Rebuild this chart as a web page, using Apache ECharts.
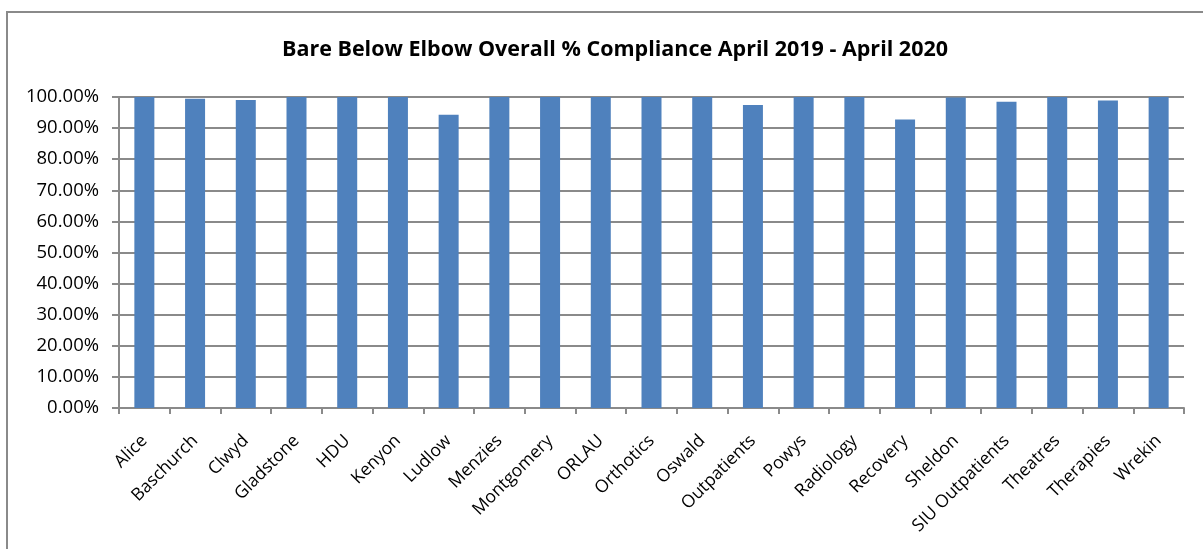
<!DOCTYPE html>
<html>
<head>
<meta charset="utf-8">
<title>Bare Below Elbow Overall % Compliance</title>
<script src="https://cdn.jsdelivr.net/npm/echarts@6/dist/echarts.min.js"></script>
<style>
  html, body { margin: 0; padding: 0; background: #ffffff; }
  #chart { width: 1203px; height: 549px; }
</style>
</head>
<body>
<div id="chart"></div>
<script>
// Wards / departments audited
const categories = [
  'Alice', 'Baschurch', 'Clwyd', 'Gladstone', 'HDU', 'Kenyon', 'Ludlow',
  'Menzies', 'Montgomery', 'ORLAU', 'Orthotics', 'Oswald', 'Outpatients',
  'Powys', 'Radiology', 'Recovery', 'Sheldon', 'SIU Outpatients',
  'Theatres', 'Therapies', 'Wrekin'
];

// Overall compliance, percent
const compliance = [
  100, 99.4, 99.0, 100, 100, 100, 94.3,
  100, 100, 100, 100, 100, 97.4,
  100, 100, 92.8, 99.8, 98.5,
  100, 98.9, 100
];

const chartTitle = 'Bare Below Elbow Overall % Compliance April 2019 - April 2020';

const axisGrey = '#8a8a8a';
const fontFamily = '"Open Sans", "Noto Sans", sans-serif';

const chart = echarts.init(document.getElementById('chart'), null, { renderer: 'canvas' });

chart.setOption({
  backgroundColor: '#ffffff',
  animation: false,
  title: {
    text: chartTitle,
    left: 610,
    textAlign: 'center',
    top: 34,
    textStyle: { fontFamily, fontSize: 21.5, fontWeight: 'bold', color: '#000000' }
  },
  grid: { left: 119, right: 19, top: 97, bottom: 141, containLabel: false },
  xAxis: {
    type: 'category',
    data: categories,
    boundaryGap: true,
    axisLine: { lineStyle: { color: axisGrey, width: 2 } },
    axisTick: { show: true, length: 6, alignWithLabel: false, lineStyle: { color: axisGrey, width: 2 } },
    axisLabel: {
      interval: 0,
      rotate: 45,
      margin: 30,
      fontFamily,
      fontSize: 17.5,
      color: '#000000'
    }
  },
  yAxis: {
    type: 'value',
    min: 0,
    max: 100,
    interval: 10,
    axisLine: { show: true, lineStyle: { color: axisGrey, width: 2 } },
    axisTick: { show: true, length: 7, lineStyle: { color: axisGrey, width: 2 } },
    splitLine: { show: true, lineStyle: { color: axisGrey, width: 2 } },
    axisLabel: {
      margin: 20,
      fontFamily,
      fontSize: 18.5,
      color: '#000000',
      formatter: v => v.toFixed(2) + '%'
    }
  },
  series: [{
    type: 'bar',
    data: compliance,
    barWidth: 20,
    itemStyle: { color: '#4F81BD' }
  }],
  graphic: [
    // chart frame (left and top edges)
    { type: 'line', shape: { x1: 7, y1: 12, x2: 7, y2: 549 }, style: { stroke: axisGrey, lineWidth: 2 } },
    { type: 'line', shape: { x1: 6, y1: 12, x2: 1203, y2: 12 }, style: { stroke: axisGrey, lineWidth: 2 } }
  ]
});
</script>
</body>
</html>
